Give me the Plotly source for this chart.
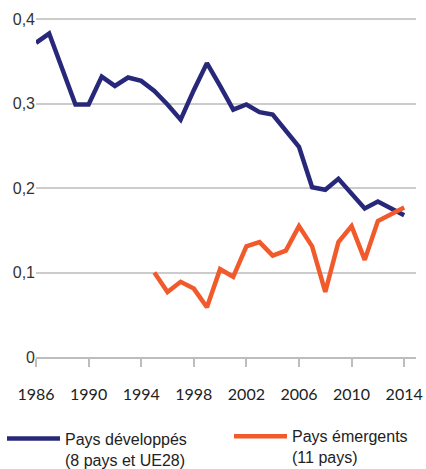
import plotly.graph_objects as go

years_dev = list(range(1986, 2015))
dev = [0.372, 0.383, 0.341, 0.299, 0.299, 0.332, 0.321, 0.331, 0.327, 0.315,
       0.299, 0.281, 0.316, 0.348, 0.321, 0.293, 0.299, 0.290, 0.287, 0.269,
       0.249, 0.201, 0.198, 0.211, 0.194, 0.176, 0.184, 0.176, 0.168]

years_em = list(range(1995, 2015))
em = [0.100, 0.077, 0.089, 0.081, 0.059, 0.104, 0.095, 0.131, 0.136, 0.120,
      0.126, 0.155, 0.131, 0.077, 0.136, 0.155, 0.115, 0.161, 0.169, 0.177]

x_ticks = [1986, 1990, 1994, 1998, 2002, 2006, 2010, 2014]
y_ticks = [0, 0.1, 0.2, 0.3, 0.4]
y_labels = ["0", "0,1", "0,2", "0,3", "0,4"]

name_dev = "Pays développés<br>(8 pays et UE28)"
name_em = "Pays émergents<br>(11 pays)"

fig = go.Figure()
fig.add_trace(go.Scatter(x=years_dev, y=dev, mode="lines", name=name_dev,
                         line=dict(color="#28287a", width=4.5), legend="legend"))
fig.add_trace(go.Scatter(x=years_em, y=em, mode="lines", name=name_em,
                         line=dict(color="#f15a2b", width=4.5), legend="legend2"))

legend_font = dict(family="Liberation Sans", size=16, color="#222")
common = dict(orientation="h", xref="container", yref="container",
              xanchor="left", yanchor="top", itemwidth=53, valign="top",
              font=legend_font, bgcolor="rgba(0,0,0,0)")

fig.update_layout(
    width=426, height=469,
    margin=dict(l=36, r=10, t=15, b=112),
    paper_bgcolor="white", plot_bgcolor="white",
    showlegend=True,
    legend=dict(x=2 / 426, y=0.101, **common),
    legend2=dict(x=229 / 426, y=0.106, **common),
    xaxis=dict(range=[1986, 2014.9], tickvals=x_ticks, showgrid=False,
               showline=True, linecolor="#bdbdbd", linewidth=1.5,
               ticks="outside", ticklen=8, tickcolor="#bdbdbd", tickwidth=1.5,
               ticklabelstandoff=14, automargin=False,
               tickfont=dict(family="Lato", size=16, color="#222"), zeroline=False),
    yaxis=dict(range=[0, 0.405], tickvals=y_ticks, ticktext=y_labels,
               showgrid=True, gridcolor="#cccccc", gridwidth=1.5, zeroline=False,
               ticks="", automargin=False,
               tickfont=dict(family="Liberation Sans", size=16, color="#333")),
)

fig.write_html("out.html", config={"displayModeBar": False},
               post_script="document.body.style.margin='0';")
